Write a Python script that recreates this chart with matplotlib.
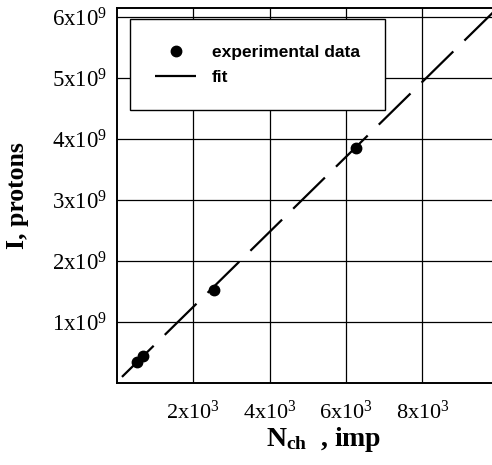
import matplotlib
matplotlib.use('Agg')
import matplotlib.pyplot as plt
import numpy as np

# ---- data ----
n_ch = [530, 690, 2540, 6250]                 # imp
intensity = [0.34e9, 0.44e9, 1.52e9, 3.85e9]  # protons

# linear fit I = a*N + b
fit_a = 6.15e5
fit_b = 0.02e9
fit_x = [130, 10000]

xticks = [2000, 4000, 6000, 8000]
xtick_labels = [r'$\mathregular{%dx10^3}$' % k for k in (2, 4, 6, 8)]
yticks = [1e9, 2e9, 3e9, 4e9, 5e9, 6e9]
ytick_labels = [r'$\mathregular{%dx10^9}$' % k for k in range(1, 7)]

serif = 'Liberation Serif'

fig = plt.figure(figsize=(4.92, 4.65), dpi=100)
ax = fig.add_axes([117 / 492, 1 - 383 / 465, 1 - 117 / 492 + 0.006, (383 - 8) / 465])

fx = np.array(fit_x, dtype=float)
l2, = ax.plot(fx, fit_a * fx + fit_b, color='black', lw=1.6,
              dashes=(20, 7), label='fit')
l1, = ax.plot(n_ch, intensity, 'o', color='black', ms=7.5, label='experimental data')

ax.set_xlim(0, 9900)
ax.set_ylim(0, 6.15e9)
ax.set_xticks(xticks)
ax.set_xticklabels(xtick_labels, family=serif, fontsize=16)
ax.set_yticks(yticks)
ax.set_yticklabels(ytick_labels, family=serif, fontsize=16.5)
ax.tick_params(length=0)
ax.tick_params(axis='y', pad=7)
ax.tick_params(axis='x', pad=13)
ax.grid(True, color='black', lw=0.9)
ax.set_axisbelow(True)
for s in ax.spines.values():
    s.set_linewidth(1.4)

ax.set_xlabel(r'$\mathregular{N_{ch}}$  , imp', family=serif, fontsize=20,
              fontweight='bold')
ax.xaxis.set_label_coords(0.548, -0.112)
ax.set_ylabel('I, protons', family=serif, fontsize=18.5, fontweight='bold')
ax.yaxis.set_label_coords(-0.232, 0.5)

leg = ax.legend(handles=[l1, l2], loc='upper left', bbox_to_anchor=(0.035, 0.97),
                fancybox=False, framealpha=1, edgecolor='black', borderpad=1.45,
                handlelength=2.35, handletextpad=0.9, labelspacing=0.6,
                borderaxespad=0,
                prop={'family': ['Liberation Sans Narrow', 'Liberation Sans'],
                      'weight': 'bold', 'size': 12.5})
leg.get_frame().set_linewidth(1.0)

fig.savefig('out.png', dpi=100)
